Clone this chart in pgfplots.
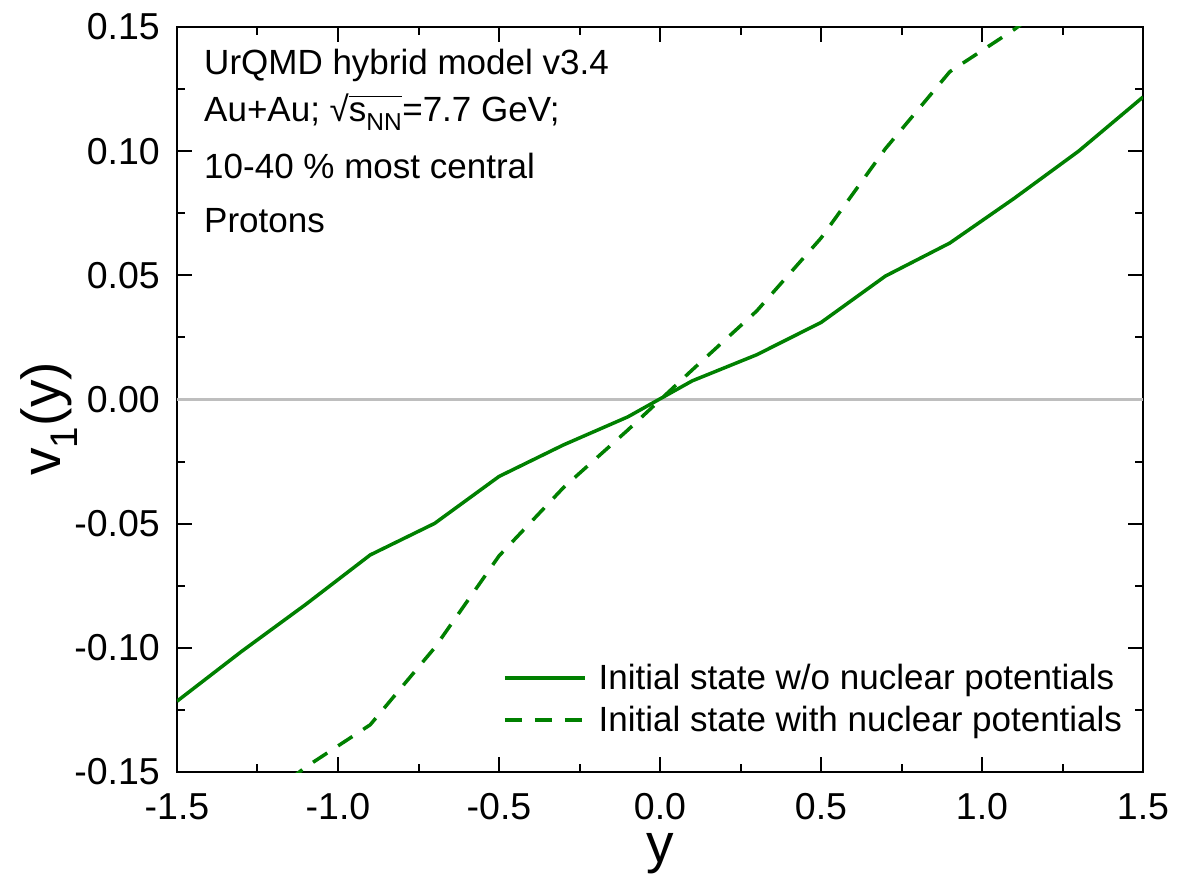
\documentclass[border=0pt]{standalone}
\usepackage{fontspec}
\setmainfont{Liberation Sans}
\usepackage{pgfplots}
\usepackage{pgfplotstable}
\pgfplotsset{compat=1.18}

\definecolor{curvegreen}{RGB}{0,128,0}
\definecolor{zeroline}{RGB}{190,190,190}

% directed flow of protons, initial state without nuclear potentials
\pgfplotstableread{
y      v1
-1.5  -0.1215
-1.3  -0.1015
-1.1  -0.0825
-0.9  -0.0626
-0.7  -0.0499
-0.5  -0.0310
-0.3  -0.0183
-0.1  -0.0070
 0.1   0.0075
 0.3   0.0180
 0.5   0.0310
 0.7   0.0497
 0.9   0.0630
 1.1   0.0810
 1.3   0.1000
 1.5   0.1218
}\nopot

% directed flow of protons, initial state with nuclear potentials
\pgfplotstableread{
y      v1
-1.3  -0.168
-1.1  -0.148
-0.9  -0.131
-0.7  -0.100
-0.5  -0.063
-0.3  -0.0355
-0.1  -0.0123
 0.1   0.0119
 0.3   0.0356
 0.5   0.065
 0.7   0.101
 0.9   0.132
 1.1   0.149
 1.3   0.168
}\withpot

\newsavebox\snnbox
\newcommand{\sNN}{\sbox\snnbox{s\textsubscript{NN}}\mbox{\char"221A\rlap{\rule[0.70em]{\wd\snnbox}{0.045em}}\usebox\snnbox}}
\newcommand{\txtfont}{\fontsize{35bp}{38bp}\selectfont}

\begin{document}
\begin{tikzpicture}
\path[use as bounding box] (-177bp,-104bp) rectangle (1021bp,772bp);
\begin{axis}[
  scale only axis, width=966bp, height=745bp,
  at={(0,0)}, anchor=south west,
  xmin=-1.5, xmax=1.5, ymin=-0.15, ymax=0.15,
  xtick={-1.5,-1.0,-0.5,0,0.5,1.0,1.5},
  ytick={-0.15,-0.10,-0.05,0,0.05,0.10,0.15},
  minor x tick num=1, minor y tick num=1,
  scaled ticks=false,
  xtick pos=both, ytick pos=both,
  xticklabel pos=bottom, yticklabel pos=left,
  tick align=inside,
  major tick length=15bp, minor tick length=8bp,
  every tick/.style={black, line width=2bp},
  axis line style={line width=2.5bp},
  tick label style={font=\fontsize{37.5bp}{40bp}\selectfont},
  /pgf/number format/assume math mode=true,
  x tick label style={/pgf/number format/.cd, fixed, fixed zerofill, precision=1, /tikz/.cd, inner sep=0pt, yshift=-21bp},
  y tick label style={/pgf/number format/.cd, fixed, fixed zerofill, precision=2, /tikz/.cd, inner sep=0pt, xshift=-17bp},
  xlabel={y}, ylabel={v\textsubscript{1}(y)},
  label style={font=\fontsize{55bp}{60bp}\selectfont, inner sep=0pt},
  xlabel style={at={(axis description cs:0.5,-0.1215)}, anchor=base, text height=0.52em, text depth=0.21em},
  ylabel style={at={(axis description cs:-0.1211,0.474)}, anchor=base},
  legend style={draw=none, fill=none, font=\txtfont,
    at={(axis description cs:0.3375,0.098)}, anchor=west,
    inner sep=0pt, row sep=15bp, column sep=12bp, nodes={inner sep=0pt}},
  legend cell align=left,
  legend image code/.code={\draw[#1] (0bp,0bp) -- (80bp,0bp);},
]
\addplot[zeroline, line width=2.5bp, forget plot] coordinates {(-1.5,0) (1.5,0)};
\addplot[curvegreen, line width=3.5bp] table[x=y, y=v1] {\nopot};
\addlegendentry{Initial state w/o nuclear potentials}
\addplot[curvegreen, line width=3.5bp, dash pattern=on 17bp off 13bp] table[x=y, y=v1] {\withpot};
\addlegendentry{Initial state with nuclear potentials}

\node[anchor=base west, inner sep=0pt, font=\txtfont] at (rel axis cs:0.028,0.9356) {UrQMD hybrid model v3.4};
\node[anchor=base west, inner sep=0pt, font=\txtfont] at (rel axis cs:0.028,0.8725) {Au+Au; \sNN=7.7 GeV;};
\node[anchor=base west, inner sep=0pt, font=\txtfont] at (rel axis cs:0.028,0.796) {10-40 \% most central};
\node[anchor=base west, inner sep=0pt, font=\txtfont] at (rel axis cs:0.028,0.7235) {Protons};
\end{axis}
\end{tikzpicture}
\end{document}
